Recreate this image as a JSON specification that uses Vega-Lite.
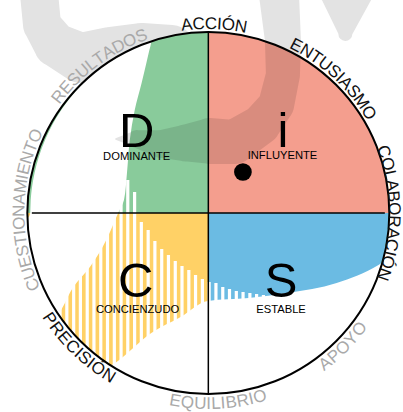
{
  "$schema": "https://vega.github.io/schema/vega-lite/v6.json",
  "width": 403,
  "height": 412,
  "autosize": {"type": "none"},
  "padding": 0,
  "background": "white",
  "config": {"view": {"stroke": null}},
  "encoding": {
    "x": {"field": "u", "type": "quantitative", "scale": {"domain": [-1.152, 1.0746], "nice": false, "zero": false}, "axis": null},
    "y": {"field": "v", "type": "quantitative", "scale": {"domain": [-1.0994, 1.1768], "nice": false, "zero": false}, "axis": null}
  },
  "resolve": {"scale": {"angle": "independent"}},
  "datasets": {
    "wm_out": [
      {"part": "hook", "i": 1, "u": -0.9586, "v": 1.2044, "w": 0.21},
      {"part": "hook", "i": 2, "u": -0.942, "v": 1.0387, "w": 0.21},
      {"part": "hook", "i": 3, "u": -0.8646, "v": 0.9282, "w": 0.243},
      {"part": "hook", "i": 4, "u": -0.721, "v": 0.8564, "w": 0.276},
      {"part": "hook", "i": 5, "u": -0.5552, "v": 0.8895, "w": 0.276},
      {"part": "hook", "i": 6, "u": -0.3785, "v": 0.9116, "w": 0.276},
      {"part": "hook", "i": 7, "u": -0.2127, "v": 0.9006, "w": 0.276},
      {"part": "bar", "i": 1, "u": 0.7818, "v": 1.2044, "w": 0.3},
      {"part": "bar", "i": 2, "u": 0.7762, "v": 0.989, "w": 0.077}
    ],
    "wm_in": [
      {"part": "band", "i": 1, "u": 0.4006, "v": 1.2044, "w": 0.221},
      {"part": "band", "i": 2, "u": 0.4227, "v": 0.9558, "w": 0.199},
      {"part": "band", "i": 3, "u": 0.4227, "v": 0.7624, "w": 0.188},
      {"part": "band", "i": 4, "u": 0.384, "v": 0.5967, "w": 0.199},
      {"part": "band", "i": 5, "u": 0.2956, "v": 0.4862, "w": 0.221},
      {"part": "band", "i": 6, "u": 0.1464, "v": 0.3923, "w": 0.243},
      {"part": "band", "i": 7, "u": 0.0083, "v": 0.3978, "w": 0.254},
      {"part": "band", "i": 8, "u": -0.1298, "v": 0.3867, "w": 0.204},
      {"part": "band", "i": 9, "u": -0.268, "v": 0.3812, "w": 0.155},
      {"part": "band", "i": 10, "u": -0.4061, "v": 0.4088, "w": 0.099},
      {"part": "band", "i": 11, "u": -0.5221, "v": 0.4088, "w": 0.011}
    ],
    "sectors": [
      {"u": 0, "v": 0, "q": "i", "t0": 0, "t1": 90},
      {"u": 0, "v": 0, "q": "S", "t0": 90, "t1": 180},
      {"u": 0, "v": 0, "q": "C", "t0": 180, "t1": 270},
      {"u": 0, "v": 0, "q": "D", "t0": 270, "t1": 360}
    ],
    "gaps": [
      {"u": -0.8398, "v": 0}, {"u": -0.8017, "v": 0}, {"u": -0.763, "v": 0},
      {"u": -0.7249, "v": 0}, {"u": -0.6862, "v": 0}, {"u": -0.6481, "v": 0},
      {"u": -0.6094, "v": 0}, {"u": -0.5713, "v": 0}, {"u": -0.5326, "v": 0},
      {"u": -0.4945, "v": 0.0994}, {"u": -0.4564, "v": 0.1823}, {"u": -0.4177, "v": 0.116},
      {"u": -0.3796, "v": -0.0497}, {"u": -0.3409, "v": -0.0939}, {"u": -0.3028, "v": -0.1547},
      {"u": -0.2641, "v": -0.1989}, {"u": -0.226, "v": -0.232}, {"u": -0.1873, "v": -0.2652},
      {"u": -0.1492, "v": -0.2928}, {"u": -0.1105, "v": -0.3149}, {"u": -0.0724, "v": -0.3425},
      {"u": -0.0337, "v": -0.3646}, {"u": 0.0044, "v": -0.3812}, {"u": 0.0431, "v": -0.3867},
      {"u": 0.0818, "v": -0.4088}, {"u": 0.1199, "v": -0.4199}, {"u": 0.1586, "v": -0.4309},
      {"u": 0.1967, "v": -0.4365}, {"u": 0.2354, "v": -0.442}, {"u": 0.2735, "v": -0.4475},
      {"u": 0.3122, "v": -0.453}
    ],
    "mask_left": [
      {"v": 0.955, "u": -0.322, "u2": -0.322},
      {"v": 0.945, "u": -0.3536, "u2": -0.323},
      {"v": 0.9, "u": -0.4561, "u2": -0.334},
      {"v": 0.82, "u": -0.5879, "u2": -0.353},
      {"v": 0.718, "u": -0.7089, "u2": -0.378},
      {"v": 0.569, "u": -0.8332, "u2": -0.417},
      {"v": 0.403, "u": -0.925, "u2": -0.445},
      {"v": 0.221, "u": -0.9845, "u2": -0.461},
      {"v": 0.072, "u": -1.0064, "u2": -0.478},
      {"v": 0, "u": -1.009, "u2": -0.511},
      {"v": -0.188, "u": -1.2, "u2": -0.599},
      {"v": -0.298, "u": -1.2, "u2": -0.671},
      {"v": -0.409, "u": -1.2, "u2": -0.765},
      {"v": -0.53, "u": -1.2, "u2": -0.831},
      {"v": -0.6, "u": -1.2, "u2": -0.88}
    ],
    "mask_bottom": [
      {"u": -0.599, "v": -0.873}, {"u": -0.528, "v": -0.829}, {"u": -0.323, "v": -0.663},
      {"u": -0.157, "v": -0.575}, {"u": -0.003, "v": -0.486}, {"u": 0.229, "v": -0.47},
      {"u": 0.45, "v": -0.442}, {"u": 0.727, "v": -0.387}, {"u": 0.964, "v": -0.287},
      {"u": 1.086, "v": -0.204}
    ],
    "top_black": [
      {"u": 0, "v": 0, "t": -6.5, "ch": "A"}, {"u": 0, "v": 0, "t": -2.92, "ch": "C"},
      {"u": 0, "v": 0, "t": 0.8, "ch": "C"}, {"u": 0, "v": 0, "t": 3.37, "ch": "I"},
      {"u": 0, "v": 0, "t": 6.1, "ch": "Ó"}, {"u": 0, "v": 0, "t": 9.96, "ch": "N"},
      {"u": 0, "v": 0, "t": 27.7, "ch": "E"}, {"u": 0, "v": 0, "t": 31.3, "ch": "N"},
      {"u": 0, "v": 0, "t": 34.7, "ch": "T"}, {"u": 0, "v": 0, "t": 38.1, "ch": "U"},
      {"u": 0, "v": 0, "t": 41.7, "ch": "S"}, {"u": 0, "v": 0, "t": 44.1, "ch": "I"},
      {"u": 0, "v": 0, "t": 46.6, "ch": "A"}, {"u": 0, "v": 0, "t": 50.0, "ch": "S"},
      {"u": 0, "v": 0, "t": 53.9, "ch": "M"}, {"u": 0, "v": 0, "t": 58.0, "ch": "O"}
    ],
    "right_black": [
      {"u": 0, "v": 0, "t": 70.7, "ch": "C"}, {"u": 0, "v": 0, "t": 74.7, "ch": "O"},
      {"u": 0, "v": 0, "t": 78.2, "ch": "L"}, {"u": 0, "v": 0, "t": 81.4, "ch": "A"},
      {"u": 0, "v": 0, "t": 84.9, "ch": "B"}, {"u": 0, "v": 0, "t": 88.7, "ch": "O"},
      {"u": 0, "v": 0, "t": 92.6, "ch": "R"}, {"u": 0, "v": 0, "t": 96.3, "ch": "A"},
      {"u": 0, "v": 0, "t": 99.9, "ch": "C"}, {"u": 0, "v": 0, "t": 102.6, "ch": "I"},
      {"u": 0, "v": 0, "t": 105.3, "ch": "Ó"}, {"u": 0, "v": 0, "t": 109.3, "ch": "N"}
    ],
    "top_gray": [
      {"u": 0, "v": 0, "t": 247.8, "ch": "C"}, {"u": 0, "v": 0, "t": 251.5, "ch": "U"},
      {"u": 0, "v": 0, "t": 255.1, "ch": "E"}, {"u": 0, "v": 0, "t": 258.5, "ch": "S"},
      {"u": 0, "v": 0, "t": 261.8, "ch": "T"}, {"u": 0, "v": 0, "t": 264.1, "ch": "I"},
      {"u": 0, "v": 0, "t": 266.9, "ch": "O"}, {"u": 0, "v": 0, "t": 270.7, "ch": "N"},
      {"u": 0, "v": 0, "t": 274.3, "ch": "A"}, {"u": 0, "v": 0, "t": 278.2, "ch": "M"},
      {"u": 0, "v": 0, "t": 281.0, "ch": "I"}, {"u": 0, "v": 0, "t": 283.5, "ch": "E"},
      {"u": 0, "v": 0, "t": 287.0, "ch": "N"}, {"u": 0, "v": 0, "t": 290.5, "ch": "T"},
      {"u": 0, "v": 0, "t": 294.1, "ch": "O"},
      {"u": 0, "v": 0, "t": 307.9, "ch": "R"}, {"u": 0, "v": 0, "t": 311.5, "ch": "E"},
      {"u": 0, "v": 0, "t": 314.9, "ch": "S"}, {"u": 0, "v": 0, "t": 318.5, "ch": "U"},
      {"u": 0, "v": 0, "t": 321.8, "ch": "L"}, {"u": 0, "v": 0, "t": 324.8, "ch": "T"},
      {"u": 0, "v": 0, "t": 328.1, "ch": "A"}, {"u": 0, "v": 0, "t": 331.7, "ch": "D"},
      {"u": 0, "v": 0, "t": 335.5, "ch": "O"}, {"u": 0, "v": 0, "t": 339.3, "ch": "S"}
    ],
    "bottom_black": [
      {"u": 0, "v": 0, "t": 236.3, "ch": "P"}, {"u": 0, "v": 0, "t": 232.7, "ch": "R"},
      {"u": 0, "v": 0, "t": 229.1, "ch": "E"}, {"u": 0, "v": 0, "t": 225.5, "ch": "C"},
      {"u": 0, "v": 0, "t": 222.9, "ch": "I"}, {"u": 0, "v": 0, "t": 220.5, "ch": "S"},
      {"u": 0, "v": 0, "t": 218.1, "ch": "I"}, {"u": 0, "v": 0, "t": 215.4, "ch": "Ó"},
      {"u": 0, "v": 0, "t": 211.5, "ch": "N"}
    ],
    "bottom_gray": [
      {"u": 0, "v": 0, "t": 190.0, "ch": "E"}, {"u": 0, "v": 0, "t": 186.3, "ch": "Q"},
      {"u": 0, "v": 0, "t": 182.4, "ch": "U"}, {"u": 0, "v": 0, "t": 179.9, "ch": "I"},
      {"u": 0, "v": 0, "t": 177.7, "ch": "L"}, {"u": 0, "v": 0, "t": 175.6, "ch": "I"},
      {"u": 0, "v": 0, "t": 173.1, "ch": "B"}, {"u": 0, "v": 0, "t": 169.6, "ch": "R"},
      {"u": 0, "v": 0, "t": 167.0, "ch": "I"}, {"u": 0, "v": 0, "t": 164.3, "ch": "O"},
      {"u": 0, "v": 0, "t": 142.2, "ch": "A"}, {"u": 0, "v": 0, "t": 138.7, "ch": "P"},
      {"u": 0, "v": 0, "t": 135.0, "ch": "O"}, {"u": 0, "v": 0, "t": 131.3, "ch": "Y"},
      {"u": 0, "v": 0, "t": 127.5, "ch": "O"}
    ]
  },
  "layer": [
    {
      "data": {"name": "wm_out"},
      "mark": {"type": "trail", "color": "#e3e3e3"},
      "encoding": {
        "size": {"field": "w", "type": "quantitative", "scale": {"domain": [0, 1], "range": [0, 181]}, "legend": null},
        "order": {"field": "i"},
        "detail": {"field": "part"}
      }
    },
    {
      "data": {"values": [{"u": 0, "v": 0, "t0": 0, "t1": 360}]},
      "mark": {"type": "arc", "radius": 181, "color": "white"},
      "encoding": {
        "theta": {"field": "t0", "type": "quantitative", "stack": null, "scale": {"domain": [0, 360], "range": [0, 6.283185307179586]}},
        "theta2": {"field": "t1"}
      }
    },
    {
      "data": {"name": "sectors"},
      "mark": {"type": "arc", "radius": 181},
      "encoding": {
        "theta": {"field": "t0", "type": "quantitative", "stack": null, "scale": {"domain": [0, 360], "range": [0, 6.283185307179586]}},
        "theta2": {"field": "t1"},
        "color": {"field": "q", "type": "nominal", "scale": {"domain": ["D", "i", "S", "C"], "range": ["#89cb9b", "#f49e8e", "#6bbbe3", "#ffd166"]}, "legend": null}
      }
    },
    {
      "data": {"name": "gaps"},
      "mark": {"type": "bar", "width": 3.2, "color": "white"},
      "encoding": {"y2": {"datum": -1.1}}
    },
    {
      "data": {"name": "mask_left"},
      "mark": {"type": "area", "orient": "horizontal", "color": "white", "interpolate": "monotone"},
      "encoding": {"x2": {"field": "u2"}}
    },
    {
      "data": {"name": "mask_bottom"},
      "mark": {"type": "area", "color": "white", "interpolate": "monotone"},
      "encoding": {"y2": {"datum": -1.2}}
    },
    {
      "data": {"name": "wm_in"},
      "mark": {"type": "trail", "color": "black", "opacity": 0.11},
      "encoding": {
        "size": {"field": "w", "type": "quantitative", "scale": {"domain": [0, 1], "range": [0, 181]}, "legend": null},
        "order": {"field": "i"},
        "detail": {"field": "part"}
      }
    },
    {
      "data": {"values": [{"u": 0, "v": 0, "t0": 0, "t1": 360}]},
      "mark": {"type": "arc", "radius": 181, "fillOpacity": 0, "stroke": "black", "strokeWidth": 2},
      "encoding": {
        "theta": {"field": "t0", "type": "quantitative", "stack": null, "scale": {"domain": [0, 360], "range": [0, 6.283185307179586]}},
        "theta2": {"field": "t1"}
      }
    },
    {
      "data": {"values": [{"u": 0, "u2": 0, "v": -1, "v2": 1}, {"u": -1, "u2": 1, "v": 0, "v2": 0}]},
      "mark": {"type": "rule", "color": "black", "strokeWidth": 1.5},
      "encoding": {"x2": {"field": "u2"}, "y2": {"field": "v2"}}
    },
    {
      "data": {"values": [{"u": 0.196, "v": 0.2265}]},
      "mark": {"type": "circle", "size": 314, "color": "black", "opacity": 1}
    },
    {
      "data": {"values": [
        {"u": -0.406, "v": 0.365, "ch": "D"},
        {"u": 0.423, "v": 0.365, "ch": "i"},
        {"u": -0.412, "v": -0.464, "ch": "C"},
        {"u": 0.412, "v": -0.464, "ch": "S"}
      ]},
      "mark": {"type": "text", "font": "Liberation Sans", "fontSize": 49, "align": "center", "baseline": "alphabetic", "color": "black"},
      "encoding": {"text": {"field": "ch"}}
    },
    {
      "data": {"values": [
        {"u": -0.406, "v": 0.293, "ch": "DOMINANTE"},
        {"u": 0.42, "v": 0.298, "ch": "INFLUYENTE"},
        {"u": -0.401, "v": -0.552, "ch": "CONCIENZUDO"},
        {"u": 0.412, "v": -0.552, "ch": "ESTABLE"}
      ]},
      "mark": {"type": "text", "font": "Liberation Sans", "fontSize": 11.2, "align": "center", "baseline": "alphabetic", "color": "black"},
      "encoding": {"text": {"field": "ch"}}
    },
    {
      "data": {"name": "top_black"},
      "mark": {"type": "text", "radius": 189, "font": "Liberation Sans", "fontSize": 17, "align": "center", "baseline": "middle", "color": "#111111"},
      "encoding": {
        "theta": {"field": "t", "type": "quantitative", "stack": null, "scale": {"domain": [0, 360], "range": [0, 6.283185307179586]}},
        "angle": {"field": "t", "type": "quantitative", "scale": {"domain": [0, 360], "range": [0, 360]}, "legend": null},
        "text": {"field": "ch"}
      }
    },
    {
      "data": {"name": "right_black"},
      "mark": {"type": "text", "radius": 185.5, "font": "Liberation Sans", "fontSize": 17, "align": "center", "baseline": "middle", "color": "#111111"},
      "encoding": {
        "theta": {"field": "t", "type": "quantitative", "stack": null, "scale": {"domain": [0, 360], "range": [0, 6.283185307179586]}},
        "angle": {"field": "t", "type": "quantitative", "scale": {"domain": [0, 360], "range": [0, 360]}, "legend": null},
        "text": {"field": "ch"}
      }
    },
    {
      "data": {"name": "top_gray"},
      "mark": {"type": "text", "radius": 189, "font": "Liberation Sans", "fontSize": 17, "align": "center", "baseline": "middle", "color": "#a9a9a9"},
      "encoding": {
        "theta": {"field": "t", "type": "quantitative", "stack": null, "scale": {"domain": [0, 360], "range": [0, 6.283185307179586]}},
        "angle": {"field": "t", "type": "quantitative", "scale": {"domain": [0, 360], "range": [0, 360]}, "legend": null},
        "text": {"field": "ch"}
      }
    },
    {
      "data": {"name": "bottom_black"},
      "mark": {"type": "text", "radius": 191, "font": "Liberation Sans", "fontSize": 17, "align": "center", "baseline": "middle", "color": "#111111"},
      "encoding": {
        "theta": {"field": "t", "type": "quantitative", "stack": null, "scale": {"domain": [0, 360], "range": [0, 6.283185307179586]}},
        "angle": {"field": "t", "type": "quantitative", "scale": {"domain": [0, 360], "range": [-180, 180]}, "legend": null},
        "text": {"field": "ch"}
      }
    },
    {
      "data": {"name": "bottom_gray"},
      "mark": {"type": "text", "radius": 191, "font": "Liberation Sans", "fontSize": 17, "align": "center", "baseline": "middle", "color": "#a9a9a9"},
      "encoding": {
        "theta": {"field": "t", "type": "quantitative", "stack": null, "scale": {"domain": [0, 360], "range": [0, 6.283185307179586]}},
        "angle": {"field": "t", "type": "quantitative", "scale": {"domain": [0, 360], "range": [-180, 180]}, "legend": null},
        "text": {"field": "ch"}
      }
    }
  ]
}
